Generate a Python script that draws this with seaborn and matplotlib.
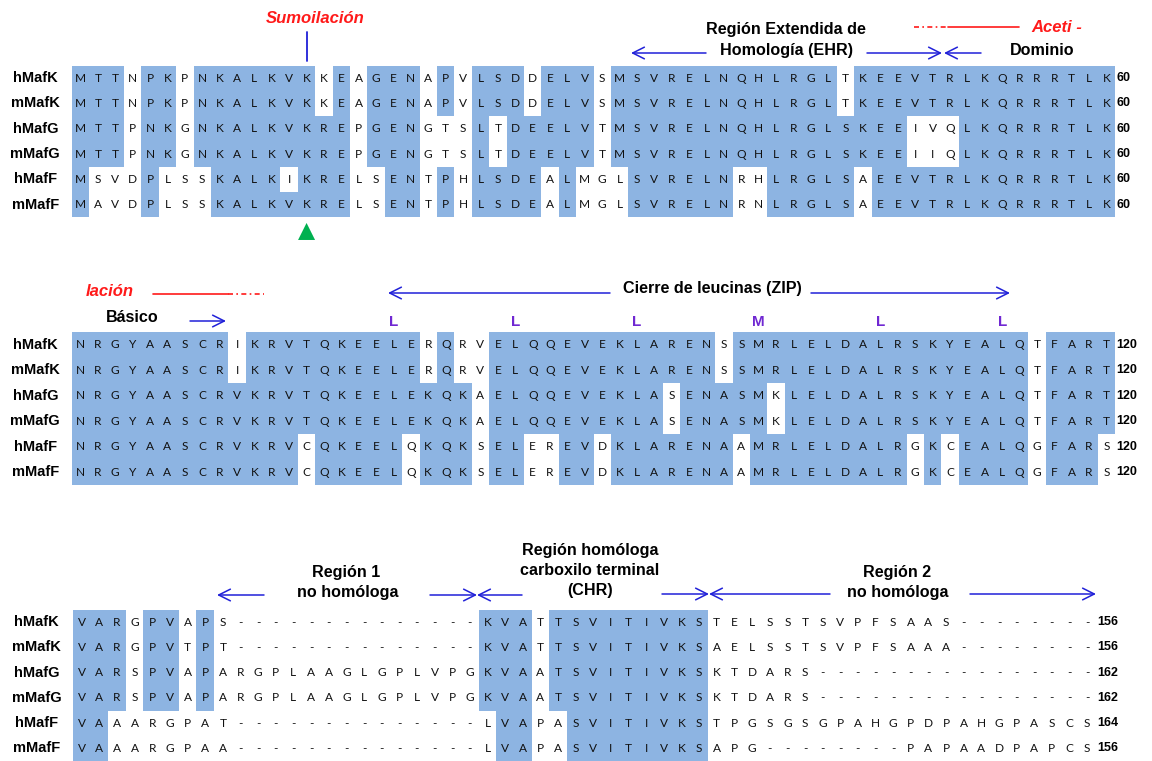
import numpy as np
import pandas as pd
import matplotlib
matplotlib.use("Agg")
import matplotlib.pyplot as plt
from matplotlib.colors import ListedColormap
import seaborn as sns

sns.set_theme(style="white")
plt.rcParams["font.family"] = ["Liberation Sans", "DejaVu Sans"]

# ---------------------------------------------------------------- data
proteins = ["hMafK", "mMafK", "hMafG", "mMafG", "hMafF", "mMafF"]

seq_1_60 = [
    "MTTNPKPNKALKVKKEAGENAPVLSDDELVSMSVRELNQHLRGLTKEEVTRLKQRRRTLK",
    "MTTNPKPNKALKVKKEAGENAPVLSDDELVSMSVRELNQHLRGLTKEEVTRLKQRRRTLK",
    "MTTPNKGNKALKVKREPGENGTSLTDEELVTMSVRELNQHLRGLSKEEIVQLKQRRRTLK",
    "MTTPNKGNKALKVKREPGENGTSLTDEELVTMSVRELNQHLRGLSKEEIIQLKQRRRTLK",
    "MSVDPLSSKALKIKRELSENTPHLSDEALMGLSVRELNRHLRGLSAEEVTRLKQRRRTLK",
    "MAVDPLSSKALKVKRELSENTPHLSDEALMGLSVRELNRNLRGLSAEEVTRLKQRRRTLK",
]
seq_61_120 = [
    "NRGYAASCRIKRVTQKEELERQRVELQQEVEKLARENSSMRLELDALRSKYEALQTFART",
    "NRGYAASCRIKRVTQKEELERQRVELQQEVEKLARENSSMRLELDALRSKYEALQTFART",
    "NRGYAASCRVKRVTQKEELEKQKAELQQEVEKLASENASMKLELDALRSKYEALQTFART",
    "NRGYAASCRVKRVTQKEELEKQKAELQQEVEKLASENASMKLELDALRSKYEALQTFART",
    "NRGYAASCRVKRVCQKEELQKQKSELEREVDKLARENAAMRLELDALRGKCEALQGFARS",
    "NRGYAASCRVKRVCQKEELQKQKSELEREVDKLARENAAMRLELDALRGKCEALQGFARS",
]
seq_tail = [
    "VARGPVAPS--------------KVATTSVITIVKSTELSSTSVPFSAAS--------",
    "VARGPVTPT--------------KVATTSVITIVKSAELSSTSVPFSAAA--------",
    "VARSPVAPARGPLAAGLGPLVPGKVAATSVITIVKSKTDARS----------------",
    "VARSPVAPARGPLAAGLGPLVPGKVAATSVITIVKSKTDARS----------------",
    "VAAARGPAT--------------LVAPASVITIVKSTPGSGSGPAHGPDPAHGPASCS",
    "VAAARGPAA--------------LVAPASVITIVKSAPG--------PAPAADPAPCS",
]

# conserved (shaded) column ranges, 1-based and inclusive
shade_1_60 = [
    [(1, 3), (5, 6), (8, 14), (16, 16), (18, 20), (22, 22), (24, 26), (28, 30), (32, 44), (46, 60)],
    [(1, 3), (5, 6), (8, 14), (16, 16), (18, 20), (22, 22), (24, 26), (28, 30), (32, 44), (46, 60)],
    [(1, 3), (5, 6), (8, 16), (18, 20), (24, 24), (26, 30), (32, 48), (52, 60)],
    [(1, 3), (5, 6), (8, 16), (18, 20), (24, 24), (26, 30), (32, 48), (52, 60)],
    [(1, 1), (5, 5), (9, 12), (14, 16), (19, 20), (22, 22), (24, 27), (29, 29), (33, 38), (41, 45), (47, 60)],
    [(1, 1), (5, 5), (9, 16), (19, 20), (22, 22), (24, 27), (29, 29), (33, 38), (41, 45), (47, 60)],
]
shade_61_120 = [
    [(1, 9), (11, 20), (22, 22), (25, 37), (39, 55), (57, 60)],
    [(1, 9), (11, 20), (22, 22), (25, 37), (39, 55), (57, 60)],
    [(1, 23), (25, 34), (36, 40), (42, 55), (57, 60)],
    [(1, 23), (25, 34), (36, 40), (42, 55), (57, 60)],
    [(1, 13), (15, 19), (21, 23), (25, 26), (29, 30), (32, 38), (40, 48), (50, 50), (52, 55), (57, 59)],
    [(1, 13), (15, 19), (21, 23), (25, 26), (29, 30), (32, 38), (40, 48), (50, 50), (52, 55), (57, 59)],
]
shade_tail = [
    [(1, 3), (5, 6), (8, 8), (24, 26), (28, 36)],
    [(1, 3), (5, 6), (8, 8), (24, 26), (28, 36)],
    [(1, 3), (5, 6), (8, 8), (24, 26), (28, 36)],
    [(1, 3), (5, 6), (8, 8), (24, 26), (28, 36)],
    [(1, 2), (25, 26), (29, 36)],
    [(1, 2), (25, 26), (29, 36)],
]

end_1_60 = [60, 60, 60, 60, 60, 60]
end_61_120 = [120, 120, 120, 120, 120, 120]
end_tail = [156, 156, 162, 162, 164, 156]

sumo_site = 14                       # lysine column in the first block
heptad_cols = [19, 26, 33, 40, 47, 54]
heptad_res = ["L", "L", "L", "M", "L", "L"]

# ---------------------------------------------------------------- style
SHADE = "#8DB4E2"
BLUE = "#2020D8"
RED = "#FF1A1A"
PURPLE = "#7028D2"
GREEN = "#00B050"
SEQ_FONT = ["Lato", "DejaVu Sans"]
BOLD_SIZE = 11.6

W, H = 1152, 761
fig = plt.figure(figsize=(W / 100, H / 100), dpi=100)
fig.patch.set_facecolor("white")


def px_axes(left, top, width, height, **kw):
    return fig.add_axes([left / W, 1 - (top + height) / H, width / W, height / H], **kw)


def draw_block(seqs, shade, ends, left, top, colw, rowh):
    ncol = len(seqs[0])
    letters = np.array([list(s) for s in seqs])
    cons = np.zeros((len(seqs), ncol))
    for i, ranges in enumerate(shade):
        for a, b in ranges:
            cons[i, a - 1:b] = 1
    df = pd.DataFrame(cons, index=proteins)
    ax = px_axes(left, top, ncol * colw, len(seqs) * rowh)
    sns.heatmap(df, ax=ax, cmap=ListedColormap(["white", SHADE]), vmin=0, vmax=1,
                cbar=False, annot=letters, fmt="", xticklabels=False,
                yticklabels=proteins, linewidths=0,
                annot_kws=dict(color="#111111", fontsize=8.6, family=SEQ_FONT))
    ax.set_ylabel("")
    ax.tick_params(axis="y", length=0, pad=26.3)
    for t in ax.get_yticklabels():
        t.set_fontweight("bold")
        t.set_fontsize(10.5)
        t.set_ha("center")
        t.set_rotation(0)
        t.set_color("black")
    for i, n in enumerate(ends):
        ax.text(ncol + 0.08, i + 0.5, str(n), ha="left", va="center",
                fontsize=9, fontweight="bold", color="black")
    for s in ax.spines.values():
        s.set_visible(False)
    return ax


ax1 = draw_block(seq_1_60, shade_1_60, end_1_60, 71.8, 65.5, 17.39, 25.3)
ax2 = draw_block(seq_61_120, shade_61_120, end_61_120, 71.8, 332.0, 17.39, 25.5)
ax3 = draw_block(seq_tail, shade_tail, end_tail, 72.9, 609.5, 17.64, 25.25)

# sumoylation site marker
ax1.plot([sumo_site - 0.5, sumo_site - 0.5], [-1.34, -0.19], color=BLUE, lw=1.3, clip_on=False)
sns.scatterplot(x=[sumo_site - 0.5], y=[6.56], ax=ax1, marker="^", s=150,
                color=GREEN, edgecolor="none", clip_on=False, legend=False)
ax1.set_xlim(0, len(seq_1_60[0]))
ax1.set_ylim(len(proteins), 0)

# heptad repeat residues of the leucine zipper
for c, r in zip(heptad_cols, heptad_res):
    ax2.text(c - 0.5, -0.41, r, ha="center", va="center", color=PURPLE,
             fontsize=11, fontweight="bold")

# ---------------------------------------------------------------- overlay
ov = fig.add_axes([0, 0, 1, 1], zorder=5)
ov.set_xlim(0, W)
ov.set_ylim(H, 0)
ov.axis("off")
ov.patch.set_alpha(0)


def arrow(x_tail, x_head, y):
    ov.annotate("", xy=(x_head, y), xytext=(x_tail, y),
                arrowprops=dict(arrowstyle="->, head_length=0.6, head_width=0.3",
                                color=BLUE, lw=1.1, shrinkA=0, shrinkB=0,
                                mutation_scale=14))


def label(x, y, s, **kw):
    opts = dict(ha="center", va="center", fontsize=BOLD_SIZE, fontweight="bold", color="black")
    opts.update(kw)
    ov.text(x, y, s, **opts)


def red_label(x, y, s):
    label(x, y, s, color=RED, style="italic", fontsize=12)


# first block
red_label(315, 18.5, "Sumoilación")
label(786, 29.5, "Región Extendida de")
label(786, 50.5, "Homología (EHR)")
arrow(706, 631, 53)
arrow(867, 942, 53)
arrow(981, 944, 53)
label(1042, 50.5, "Dominio")
ov.plot([914, 948], [27, 27], color=RED, lw=1.2, ls=(0, (3, 2, 1, 2)))
ov.plot([948, 1019], [27, 27], color=RED, lw=1.2)
red_label(1057, 27, "Aceti -")

# second block
red_label(110, 291, "lación")
ov.plot([153, 228], [294, 294], color=RED, lw=1.2)
ov.plot([228, 264], [294, 294], color=RED, lw=1.2, ls=(0, (3, 2, 1, 2)))
label(132, 318, "Básico")
arrow(190, 226, 321)
arrow(610, 388, 293)
label(712, 289, "Cierre de leucinas (ZIP)")
arrow(811, 1010, 293)

# third block
label(346, 572.5, "Región 1")
label(348, 592, "no homóloga")
arrow(264, 217, 595)
arrow(430, 477, 595)
arrow(522, 477, 595)
label(590, 550, "Región homóloga")
label(590, 570.5, "carboxilo terminal")
label(590, 591, "(CHR)")
arrow(662, 709, 594)
arrow(830, 709, 594)
label(897, 573, "Región 2")
label(898, 592, "no homóloga")
arrow(970, 1096, 594)

fig.savefig("out.png", dpi=100, facecolor="white")
